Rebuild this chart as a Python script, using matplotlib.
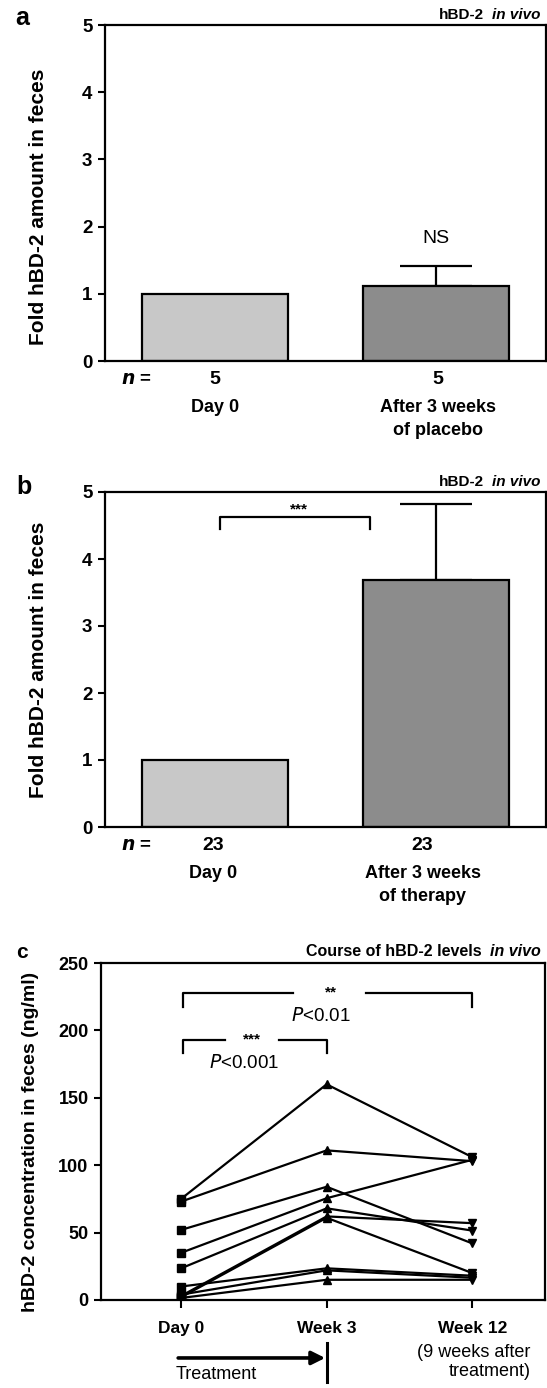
import matplotlib.pyplot as plt

plt.rcParams['font.family'] = ['Liberation Sans', 'DejaVu Sans']

W, H = 547, 1388

# panel a: placebo
a_groups = ['Day 0', 'After 3 weeks\nof placebo']
a_n = ['5', '5']
a_fold = [1.0, 1.11]
a_err = [0.0, 0.30]

# panel b: therapy
b_groups = ['Day 0', 'After 3 weeks\nof therapy']
b_n = ['23', '23']
b_fold = [1.0, 3.68]
b_err = [0.0, 1.14]

# panel c: individual courses (ng/ml)
c_times = ['Day 0', 'Week 3', 'Week 12']
c_day0 = [75, 73, 52, 35, 23.5, 3, 2, 10, 4, 1.5]
c_week3 = [160, 111, 84, 75.5, 68, 62, 61, 23.5, 22, 15]
c_week12 = [106, 103, 42, 104, 51.5, 57, 20, 18, 16.5, 15]

bar_colors = ['#c8c8c8', '#8c8c8c']


def box(l, t, r, b):
    return [l / W, 1 - b / H, (r - l) / W, (b - t) / H]


def style_axes(ax, size):
    for s in ax.spines.values():
        s.set_linewidth(1.6)
    ax.tick_params(axis='y', direction='out', length=5, width=1.5,
                   labelsize=size, pad=4)
    for lab in ax.get_yticklabels():
        lab.set_fontweight('bold')


def title(ax, text, y_px, size):
    t = ax.figure.text(541 / W, 1 - y_px / H, 'in vivo', ha='right',
                       va='baseline', fontsize=size, fontweight='bold',
                       style='italic')
    ax.annotate(text, xy=(0, 0), xycoords=t, xytext=(-6, 0),
                textcoords='offset points', ha='right', va='bottom',
                fontsize=size, fontweight='bold')


def bar_panel(ax, groups, nvals, vals, errs, lab_dx):
    x = list(range(len(vals)))
    ax.bar(x, vals, width=0.66, color=bar_colors, edgecolor='black',
           linewidth=1.6, zorder=2)
    for xi, v, e in zip(x, vals, errs):
        if e > 0:
            ax.errorbar([xi], [v], yerr=[[0], [e]], fmt='none', ecolor='black',
                        elinewidth=1.6, capsize=26, capthick=1.6, zorder=1)
    ax.set_xlim(-0.5, 1.5)
    ax.set_ylim(0, 5)
    ax.set_xticks([])
    ax.set_yticks(range(6))
    style_axes(ax, 13.5)
    ax.set_ylabel('Fold hBD-2 amount in feces', fontsize=15,
                  fontweight='bold')
    tr = ax.get_xaxis_transform()
    ax.text(-0.36, -0.055, r'$\mathbfit{n}$ =', transform=tr, ha='center',
            va='center', fontsize=13.5, fontweight='bold')
    for xi, n, g, dx in zip(x, nvals, groups, lab_dx):
        ax.text(xi + dx, -0.055, n, transform=tr, ha='center', va='center',
                fontsize=14, fontweight='bold')
        ax.text(xi + dx, -0.112, g, transform=tr, ha='center', va='top',
                fontsize=13, fontweight='bold', linespacing=1.5)


fig = plt.figure(figsize=(W / 100, H / 100), dpi=100)

# ---- a
ax_a = fig.add_axes(box(105, 25, 546, 361))
bar_panel(ax_a, a_groups, a_n, a_fold, a_err, [0.0, 0.01])
ax_a.yaxis.set_label_coords(-0.13, 0.46)
ax_a.text(1, a_fold[1] + a_err[1] + 0.28, 'NS', ha='center', va='bottom',
          fontsize=14)
title(ax_a, 'hBD-2', 19, 11)
fig.text(22 / W, 1 - 18 / H, 'a', ha='center', va='center', fontsize=18,
         fontweight='bold')

# ---- b
ax_b = fig.add_axes(box(105, 492, 546, 827))
bar_panel(ax_b, b_groups, b_n, b_fold, b_err, [-0.01, -0.06])
ax_b.yaxis.set_label_coords(-0.13, 0.5)
ax_b.plot([0.02, 0.02, 0.70, 0.70], [4.45, 4.62, 4.62, 4.45], color='black',
          lw=1.6)
ax_b.text(0.38, 4.64, '***', ha='center', va='bottom', fontsize=11,
          fontweight='bold')
title(ax_b, 'hBD-2', 486, 11)
fig.text(24 / W, 1 - 487 / H, 'b', ha='center', va='center', fontsize=18,
         fontweight='bold')

# ---- c
ax_c = fig.add_axes(box(101, 963, 545, 1300))
for d0, w3, w12 in zip(c_day0, c_week3, c_week12):
    ax_c.plot([0, 1, 2], [d0, w3, w12], color='black', lw=1.6, zorder=2)
    ax_c.plot([0], [d0], 's', color='black', ms=5.5, zorder=3)
    ax_c.plot([1], [w3], '^', color='black', ms=5.5, zorder=3)
    ax_c.plot([2], [w12], 'v', color='black', ms=5.5, zorder=3)
ax_c.set_xlim(-0.55, 2.5)
ax_c.set_ylim(0, 250)
ax_c.set_yticks(range(0, 251, 50))
ax_c.set_xticks(range(3))
ax_c.set_xticklabels(c_times, fontsize=12.5, fontweight='bold')
style_axes(ax_c, 13)
ax_c.tick_params(axis='x', direction='out', length=6, width=1.5, pad=9)
ax_c.set_ylabel('hBD-2 concentration in feces (ng/ml)', fontsize=14,
                fontweight='bold')
ax_c.yaxis.set_label_coords(-0.14, 0.47)

# significance brackets
ax_c.plot([0.01, 0.01, 0.77], [217, 228, 228], color='black', lw=1.6)
ax_c.plot([1.27, 2.0, 2.0], [228, 228, 217], color='black', lw=1.6)
ax_c.text(1.03, 228, '**', ha='center', va='center', fontsize=11,
          fontweight='bold')
ax_c.text(0.96, 211, r'$\it{P}$<0.01', ha='center', va='center', fontsize=13.5)
ax_c.plot([0.01, 0.01, 0.30], [183, 193, 193], color='black', lw=1.6)
ax_c.plot([0.67, 1.0, 1.0], [193, 193, 183], color='black', lw=1.6)
ax_c.text(0.49, 193, '***', ha='center', va='center', fontsize=11,
          fontweight='bold')
ax_c.text(0.43, 176, r'$\it{P}$<0.001', ha='center', va='center',
          fontsize=13.5)

title(ax_c, 'Course of hBD-2 levels', 956, 11.5)
fig.text(22 / W, 1 - 952 / H, 'c', ha='center', va='center', fontsize=15,
         fontweight='bold')

# treatment arrow below the axis
trc = ax_c.get_xaxis_transform()
ax_c.annotate('', xy=(0.99, -0.172), xytext=(-0.02, -0.172), xycoords=trc,
              arrowprops=dict(arrowstyle='-|>', lw=2.6, color='black',
                              mutation_scale=20, shrinkA=0, shrinkB=0))
ax_c.plot([1, 1], [-0.128, -0.243], transform=trc, color='black', lw=2.2,
          clip_on=False)
ax_c.text(0.24, -0.222, 'Treatment', transform=trc, ha='center', va='center',
          fontsize=13)
ax_c.text(2.4, -0.13, '(9 weeks after\ntreatment)', transform=trc,
          ha='right', va='top', fontsize=13, linespacing=1.2,
          multialignment='right')

fig.savefig('out.png', dpi=100)
